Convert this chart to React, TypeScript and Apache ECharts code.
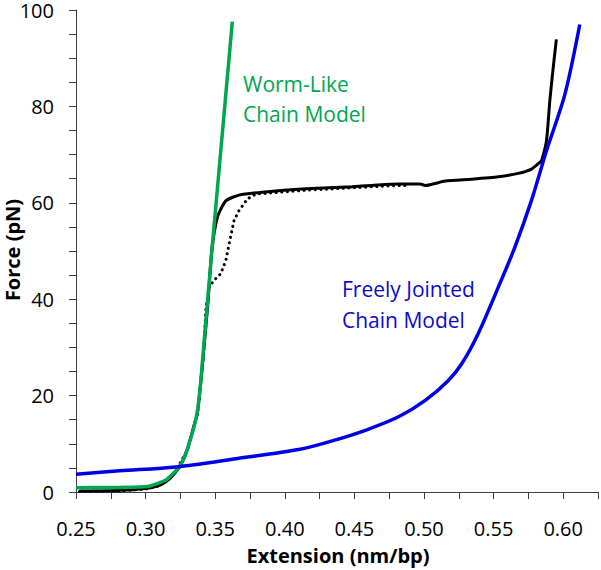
import React, { useEffect, useRef } from "react";
import * as echarts from "echarts";

// Extension (nm/bp), Force (pN)
const wlcModel: [number, number][] = [
  [0.25, 0.9], [0.27, 0.95], [0.29, 1.0], [0.3027, 1.2], [0.3146, 2.5], [0.3200, 3.9],
  [0.3241, 5.2], [0.3280, 7.3], [0.3313, 10.1], [0.3345, 13.2], [0.3373, 17],
  [0.3395, 22.5], [0.3415, 29.4], [0.3476, 50], [0.355, 74], [0.3623, 97.6],
];

const fjcModel: [number, number][] = [
  [0.25, 3.7], [0.2812, 4.4], [0.3218, 5.2], [0.3671, 7.0], [0.41, 8.8],
  [0.434, 10.6], [0.4579, 12.8], [0.4817, 15.6], [0.5009, 19], [0.5177, 23.2],
  [0.5271, 26.6], [0.539, 32.9], [0.5534, 42.5], [0.5653, 50.8], [0.5772, 60.5],
  [0.588, 70.8], [0.6012, 82.5], [0.6119, 97],
];

const stretchCurve: [number, number][] = [
  [0.2525, 0.2], [0.28, 0.3], [0.30, 0.7], [0.31, 1.4], [0.315, 2.2], [0.32, 3.6],
  [0.325, 5.5], [0.33, 8.8], [0.3345, 13.5], [0.3373, 16.5], [0.3415, 28.5],
  [0.345, 40], [0.3475, 50], [0.3516, 57], [0.3576, 60.4], [0.3671, 61.6],
  [0.3838, 62.2], [0.4149, 62.9], [0.4483, 63.35], [0.4626, 63.6], [0.4817, 63.9],
  [0.4973, 63.9], [0.5009, 63.6], [0.5152, 64.5], [0.5342, 64.9], [0.5534, 65.4],
  [0.5677, 66.1], [0.5772, 67], [0.5832, 68.4], [0.5844, 68.7], [0.588, 72.9],
  [0.5904, 81.2], [0.5928, 88], [0.5951, 93.9],
];

const relaxCurve: [number, number][] = [
  [0.2525, 0.1], [0.28, 0.2], [0.30, 0.6], [0.31, 1.3], [0.32, 3.5], [0.33, 8.7],
  [0.3373, 16.3], [0.3415, 28], [0.3433, 38], [0.3456, 42.5], [0.349, 43.9],
  [0.354, 45.3], [0.3576, 48], [0.36, 51.5], [0.3635, 56.3], [0.3671, 58.4],
  [0.3731, 60.8], [0.3791, 61.8], [0.4149, 62.6], [0.4483, 63.1], [0.4817, 63.6],
  [0.49, 63.6],
];

const xTicks = { min: 0.25, max: 0.625, step: 0.025 };
const yTicks = { min: 0, max: 100, step: 5 };

const FONT = "'Open Sans', 'Noto Sans', sans-serif";

export default function App() {
  const ref = useRef<HTMLDivElement>(null);
  useEffect(() => {
    document.body.style.margin = "0";
    if (!ref.current) return;
    const chart = echarts.init(ref.current, null, { renderer: "svg" });
    const axisCommon = {
      axisLine: { show: true, lineStyle: { color: "#404040", width: 1 } },
      axisTick: { show: true, inside: false, length: 7, lineStyle: { color: "#404040", width: 1 } },
      splitLine: { show: false },
    };
    chart.setOption({
      animation: false,
      backgroundColor: "#ffffff",
      grid: { left: 76, right: 1, top: 9, bottom: 78, containLabel: false },
      xAxis: {
        type: "value",
        min: xTicks.min,
        max: xTicks.max,
        interval: xTicks.step,
        ...axisCommon,
        axisLabel: {
          margin: 26,
          fontFamily: FONT,
          fontSize: 20,
          color: "#000",
          formatter: (v: number) => (Math.round(v * 1000) % 50 === 0 ? v.toFixed(2) : ""),
        },
      },
      yAxis: {
        type: "value",
        min: yTicks.min,
        max: yTicks.max,
        interval: yTicks.step,
        ...axisCommon,
        axisLabel: {
          margin: 22,
          fontFamily: FONT,
          fontSize: 20,
          lineHeight: 16,
          color: "#000",
          formatter: (v: number) => (Math.round(v) % 20 === 0 ? String(Math.round(v)) : ""),
        },
      },
      graphic: [
        {
          type: "text", x: 338, y: 555,
          style: { text: "Extension (nm/bp)", font: `bold 20px ${FONT}`, fill: "#000", textAlign: "center", textVerticalAlign: "middle" },
        },
        {
          type: "text", x: 12, y: 250, rotation: Math.PI / 2,
          style: { text: "Force (pN)", font: `bold 20px ${FONT}`, fill: "#000", textAlign: "center", textVerticalAlign: "middle" },
        },
        {
          type: "text", x: 243, y: 84,
          style: { text: "Worm-Like", font: `21px ${FONT}`, fill: "#00a650", textAlign: "left", textVerticalAlign: "middle" },
        },
        {
          type: "text", x: 243, y: 114,
          style: { text: "Chain Model", font: `21px ${FONT}`, fill: "#00a650", textAlign: "left", textVerticalAlign: "middle" },
        },
        {
          type: "text", x: 342, y: 289,
          style: { text: "Freely Jointed", font: `21px ${FONT}`, fill: "#0a0ad0", textAlign: "left", textVerticalAlign: "middle" },
        },
        {
          type: "text", x: 342, y: 320,
          style: { text: "Chain Model", font: `21px ${FONT}`, fill: "#0a0ad0", textAlign: "left", textVerticalAlign: "middle" },
        },
      ],
      series: [
        {
          type: "line", data: relaxCurve, showSymbol: false, smooth: false,
          lineStyle: { color: "#000", width: 3, type: [0.1, 5.5], cap: "round" }, z: 1,
        },
        {
          type: "line", data: stretchCurve, showSymbol: false, smooth: 0.2,
          lineStyle: { color: "#000", width: 3 }, z: 2,
        },
        {
          type: "line", data: wlcModel, showSymbol: false, smooth: 0.2,
          lineStyle: { color: "#00a650", width: 3.5 }, z: 3,
        },
        {
          type: "line", data: fjcModel, showSymbol: false, smooth: 0.3,
          lineStyle: { color: "#0000e6", width: 3.5 }, z: 4,
        },
      ],
    });
    return () => chart.dispose();
  }, []);
  return <div ref={ref} style={{ width: 601, height: 570 }} />;
}
